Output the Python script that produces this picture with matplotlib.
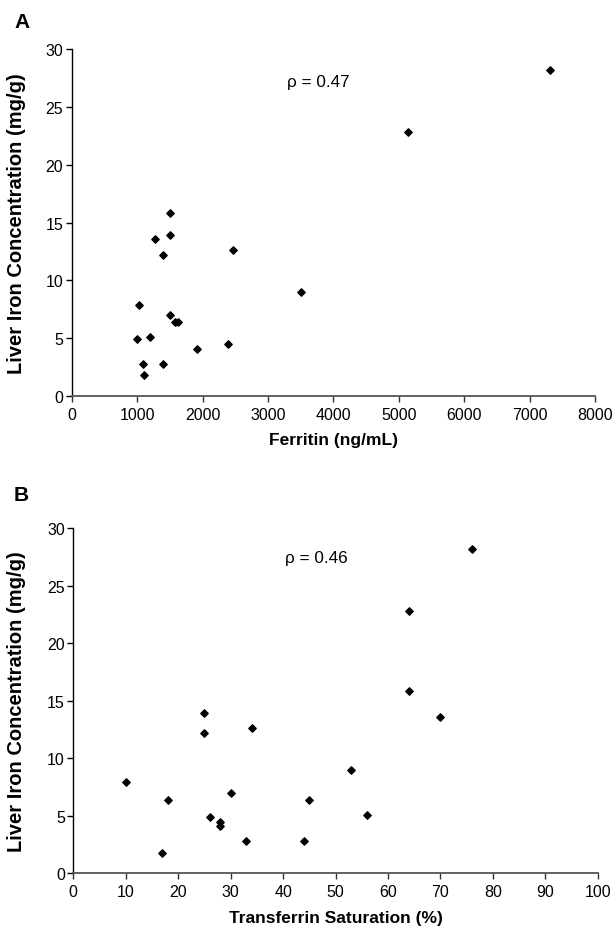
import matplotlib
matplotlib.use("Agg")
import matplotlib.pyplot as plt

plt.rcParams['font.family'] = ['Liberation Sans', 'DejaVu Sans']

# Panel A: ferritin vs liver iron concentration
ferritin = [1000, 1030, 1090, 1110, 1200, 1275, 1400, 1400, 1500, 1510,
            1500, 1580, 1620, 1920, 2390, 2460, 3500, 5140, 7310]
lic_a = [4.9, 7.9, 2.8, 1.8, 5.1, 13.6, 12.2, 2.8, 15.8, 13.9,
         7.0, 6.4, 6.4, 4.1, 4.5, 12.6, 9.0, 22.8, 28.2]

# Panel B: transferrin saturation vs liver iron concentration
tsat = [10, 17, 18, 25, 25, 26, 28, 28, 30, 33,
        34, 44, 45, 53, 56, 64, 64, 70, 76]
lic_b = [7.9, 1.8, 6.4, 13.9, 12.2, 4.9, 4.5, 4.1, 7.0, 2.8,
         12.6, 2.8, 6.4, 9.0, 5.1, 15.8, 22.8, 13.6, 28.2]

ylabel = 'Liver Iron Concentration (mg/g)'


def style_axis(ax, xlim, xstep):
    ax.set_xlim(*xlim)
    ax.set_ylim(0, 30)
    ax.set_xticks(range(xlim[0], xlim[1] + 1, xstep))
    ax.set_yticks(range(0, 31, 5))
    ax.spines['top'].set_visible(False)
    ax.spines['right'].set_visible(False)
    ax.spines['left'].set_color('black')
    ax.spines['bottom'].set_color('#555555')
    ax.spines['left'].set_linewidth(1.0)
    ax.spines['bottom'].set_linewidth(1.3)
    ax.tick_params(direction='out', length=4, width=1, labelsize=11.5, pad=2)
    ax.tick_params(axis='x', color='#333333', pad=4)


fig = plt.figure(figsize=(6.16, 9.37), dpi=100)

ax1 = fig.add_axes([0.1164, 0.5763, 0.8495, 0.3703])
ax1.scatter(ferritin, lic_a, marker='D', s=14, color='black', clip_on=False, zorder=3)
style_axis(ax1, (0, 8000), 1000)
ax1.set_xlabel('Ferritin (ng/mL)', fontsize=12.5, fontweight='bold')
ax1.set_ylabel(ylabel, fontsize=14.5, fontweight='bold')
ax1.xaxis.set_label_coords(0.5, -0.104)
ax1.yaxis.set_label_coords(-0.0873, 0.5)
ax1.text(3290, 27.2, 'ρ = 0.47', fontsize=12.3, va='center', ha='left')
fig.text(14 / 616, 1 - 22 / 937, 'A', fontsize=15, fontweight='bold', va='center', ha='left')

ax2 = fig.add_axes([0.119, 0.0669, 0.8513, 0.3685])
ax2.scatter(tsat, lic_b, marker='D', s=14, color='black', clip_on=False, zorder=3)
style_axis(ax2, (0, 100), 10)
ax2.set_xlabel('Transferrin Saturation (%)', fontsize=12.5, fontweight='bold')
ax2.set_ylabel(ylabel, fontsize=14.5, fontweight='bold')
ax2.xaxis.set_label_coords(0.5, -0.106)
ax2.yaxis.set_label_coords(-0.090, 0.5)
ax2.text(40.4, 27.4, 'ρ = 0.46', fontsize=12.3, va='center', ha='left')
fig.text(14 / 616, 1 - 496 / 937, 'B', fontsize=15, fontweight='bold', va='center', ha='left')

fig.savefig('out.png', dpi=100)
plt.close(fig)
